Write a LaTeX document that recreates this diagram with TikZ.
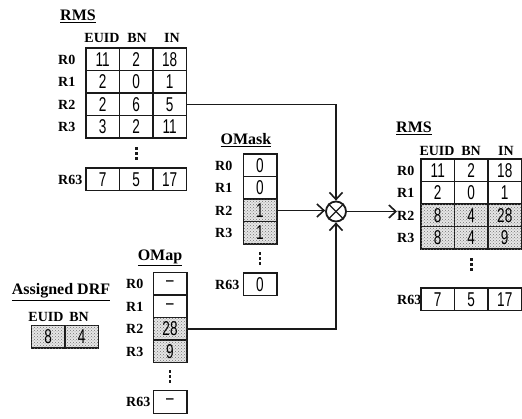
\documentclass[tikz,border=0pt]{standalone}
\usepackage{fontspec}
\setmainfont{Liberation Serif}
\newfontfamily\zahlfont[FakeStretch=0.68]{Liberation Sans}
\usetikzlibrary{arrows.meta,patterns}
\definecolor{grau}{HTML}{1A1A1A}
\definecolor{raster}{HTML}{E6E6E6}
\tikzset{
  zelle/.style={draw=grau,line width=1.5pt,minimum width=33.5pt,minimum height=22.5pt,
    inner sep=0pt,font=\zahlfont\fontsize{20}{20}\selectfont},
  zellem/.style={zelle,fill=raster,postaction={pattern=crosshatch dots,pattern color=black!55}},
  reg/.style={anchor=west,inner sep=0pt,font=\fontsize{14}{14}\selectfont\bfseries},
  kopf/.style={inner sep=0pt,font=\fontsize{14}{14}\selectfont\bfseries},
  titel/.style={inner sep=0pt,font=\fontsize{16}{16}\selectfont\bfseries},
  punkte/.pic={\fill[grau] (-1.3,-6.5) rectangle (1.3,-3.5);
    \fill[grau] (-1.3,-1.5) rectangle (1.3,1.5);
    \fill[grau] (-1.3,3.5) rectangle (1.3,6.5);},
  pfeil/.style={-{Straight Barb[length=7pt,width=13pt,line width=1.6pt]},grau,line width=1.8pt},
}

\begin{document}
\begin{tikzpicture}[x=1pt,y=-1pt]
  \useasboundingbox (0,0) rectangle (522,419);
  % RMS vorher
  \node[titel] (rmsa) at (78,16) {\underline{RMS}};
  \node[kopf] at (102,38) {EUID};
  \node[kopf] at (137,38) {BN};
  \node[kopf] at (172,38) {IN};
  \node[reg] (ra0) at (58,59.5) {R0};  \node[reg] (ra1) at (58,82) {R1};
  \node[reg] (ra2) at (58,104.5) {R2}; \node[reg] (ra3) at (58,127) {R3};
  \node[reg] (ra63) at (58,179.5) {R63};
  \node[zelle] (a00) at (102.75,59.5) {11}; \node[zelle] (a01) at (136.25,59.5) {2}; \node[zelle] (a02) at (169.75,59.5) {18};
  \node[zelle] (a10) at (102.75,82) {2};    \node[zelle] (a11) at (136.25,82) {0};   \node[zelle] (a12) at (169.75,82) {1};
  \node[zelle] (a20) at (102.75,104.5) {2}; \node[zelle] (a21) at (136.25,104.5) {6}; \node[zelle] (a22) at (169.75,104.5) {5};
  \node[zelle] (a30) at (102.75,127) {3};   \node[zelle] (a31) at (136.25,127) {2};  \node[zelle] (a32) at (169.75,127) {11};
  \pic at (136.25,153.5) {punkte};
  \node[zelle] (a630) at (102.75,179.5) {7}; \node[zelle] (a631) at (136.25,179.5) {5}; \node[zelle] (a632) at (169.75,179.5) {17};
  % OMask
  \node[titel] (omask) at (246,140) {\underline{OMask}};
  \node[reg] (rm0) at (215,165.5) {R0}; \node[reg] (rm1) at (215,188) {R1};
  \node[reg] (rm2) at (215,210.5) {R2}; \node[reg] (rm3) at (215,233) {R3};
  \node[reg] (rm63) at (215,284.5) {R63};
  \node[zelle] (m0) at (260,165.5) {0};
  \node[zelle] (m1) at (260,188) {0};
  \node[zellem] (m2) at (260,210.5) {1};
  \node[zellem] (m3) at (260,233) {1};
  \pic at (260,259) {punkte};
  \node[zelle] (m63) at (260,284.5) {0};
  % OMap
  \node[titel] (omap) at (160,258) {\underline{OMap}};
  \node[reg] (rp0) at (126,284) {R0}; \node[reg] (rp1) at (126,306.5) {R1};
  \node[reg] (rp2) at (126,329) {R2}; \node[reg] (rp3) at (126,351.5) {R3};
  \node[reg] (rp63) at (126,402) {R63};
  \node[zelle] (p0) at (170,284) {\textendash};
  \node[zelle] (p1) at (170,306.5) {\textendash};
  \node[zellem] (p2) at (170,329) {28};
  \node[zellem] (p3) at (170,351.5) {9};
  \pic at (170,377) {punkte};
  \node[zelle] (p63) at (170,402) {\textendash};
  % Assigned DRF
  \node[titel] (drf) at (61,292) {\underline{Assigned DRF}};
  \node[kopf] at (46,317) {EUID};
  \node[kopf] at (79,317) {BN};
  \node[zellem] (f0) at (48.25,337) {8};
  \node[zellem] (f1) at (81.75,337) {4};
  % RMS nachher
  \node[titel] (rmsb) at (414,128) {\underline{RMS}};
  \node[kopf] at (437,151) {EUID};
  \node[kopf] at (471,151) {BN};
  \node[kopf] at (506,151) {IN};
  \node[reg] (rb0) at (397,170.5) {R0}; \node[reg] (rb1) at (397,193) {R1};
  \node[reg] (rb2) at (397,215.5) {R2}; \node[reg] (rb3) at (397,238) {R3};
  \node[reg] (rb63) at (397,299.5) {R63};
  \node[zelle] (b00) at (437.75,170.5) {11}; \node[zelle] (b01) at (471.25,170.5) {2}; \node[zelle] (b02) at (504.75,170.5) {18};
  \node[zelle] (b10) at (437.75,193) {2};    \node[zelle] (b11) at (471.25,193) {0};   \node[zelle] (b12) at (504.75,193) {1};
  \node[zellem] (b20) at (437.75,215.5) {8}; \node[zellem] (b21) at (471.25,215.5) {4}; \node[zellem] (b22) at (504.75,215.5) {28};
  \node[zellem] (b30) at (437.75,238) {8};   \node[zellem] (b31) at (471.25,238) {4};  \node[zellem] (b32) at (504.75,238) {9};
  \pic at (471.25,265) {punkte};
  \node[zelle] (b630) at (437.75,299.5) {7}; \node[zelle] (b631) at (471.25,299.5) {5}; \node[zelle] (b632) at (504.75,299.5) {17};
  % Verknuepfung
  \node[draw=grau,line width=1.8pt,circle,minimum size=20pt,inner sep=0pt] (mult) at (336,211.5) {};
  \draw[grau,line width=1.4pt] (mult.north west) -- (mult.south east);
  \draw[grau,line width=1.4pt] (mult.north east) -- (mult.south west);
  \draw[pfeil] (a22.east) -| (mult.north);
  \draw[pfeil] (p2.east) -| (mult.south);
  \draw[pfeil] (m2.east) -- (m2.east -| mult.west);
  \draw[pfeil] (mult.east) -- (mult.east -| rb2.west);
\end{tikzpicture}
\end{document}
